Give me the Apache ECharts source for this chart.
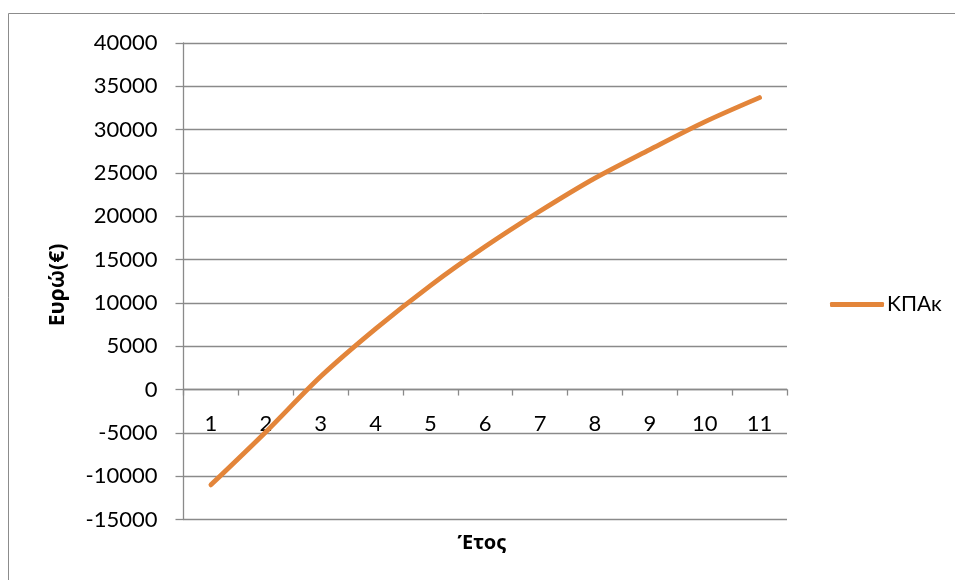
<!DOCTYPE html>
<html>
<head>
<meta charset="utf-8">
<script src="https://cdn.jsdelivr.net/npm/echarts@6/dist/echarts.min.js"></script>
<style>
  html, body { margin: 0; padding: 0; background: #fff; }
  #chart { width: 955px; height: 580px; }
</style>
</head>
<body>
<div id="chart"></div>
<script>
// Years of the investment horizon
const years = ['1', '2', '3', '4', '5', '6', '7', '8', '9', '10', '11'];
// Cumulative net present value (€) per year
const kpaValues = [-11000, -4900, 1500, 7000, 12000, 16500, 20600, 24400, 27700, 30900, 33700];
const yTicks = { min: -15000, max: 40000, step: 5000 };
const seriesName = 'ΚΠΑκ';
const yAxisTitle = 'Ευρώ(€)';
const xAxisTitle = 'Έτος';

const axisGray = '#8a8a8a';
const lineColor = '#E3853A';
const font = 'Lato, "Noto Sans", sans-serif';
const titleFont = '"Noto Sans", "Open Sans", sans-serif';

// plot box
const gridTop = 43, gridBottom = 60.5;
const plotHeight = 580 - gridTop - gridBottom;
// distance from the bottom of the plot up to the zero line
const zeroLift = plotHeight * (0 - yTicks.min) / (yTicks.max - yTicks.min);

const chart = echarts.init(document.getElementById('chart'));
chart.setOption({
  animation: false,
  backgroundColor: '#fff',
  graphic: [{
    type: 'rect',
    shape: { x: 8.5, y: 13.5, width: 960, height: 600 },
    style: { fill: 'none', stroke: '#8c8c8c', lineWidth: 1 },
    silent: true
  }, {
    // vertical axis title
    type: 'text',
    x: 58, y: 285,
    rotation: Math.PI / 2,
    style: {
      text: yAxisTitle,
      fontFamily: titleFont, fontSize: 21, fontWeight: 'bold', fill: '#000',
      align: 'center', verticalAlign: 'middle'
    }
  }, {
    // horizontal axis title
    type: 'text',
    x: 482, y: 543,
    style: {
      text: xAxisTitle,
      fontFamily: titleFont, fontSize: 20, fontWeight: 'bold', fill: '#000',
      align: 'center', verticalAlign: 'middle'
    }
  }],
  legend: {
    data: [seriesName],
    left: 825,
    top: 289,
    icon: 'roundRect',
    itemWidth: 54,
    itemHeight: 5,
    itemGap: 4,
    textStyle: { fontFamily: font, fontSize: 21, color: '#000', padding: [0, 0, 0, -2] }
  },
  grid: {
    left: 183.5, right: 168, top: gridTop, bottom: gridBottom,
    containLabel: false,
    outerBoundsMode: 'none'
  },
  xAxis: {
    type: 'category',
    data: years,
    boundaryGap: true,
    position: 'bottom',
    offset: -zeroLift,
    axisLine: { onZero: false, lineStyle: { color: axisGray, width: 1.3 } },
    axisTick: { show: true, inside: false, length: 6, lineStyle: { color: axisGray, width: 1.3 } },
    axisLabel: { fontFamily: font, fontSize: 22, color: '#000', margin: 23 },
    splitLine: { show: false }
  },
  yAxis: {
    type: 'value',
    min: yTicks.min,
    max: yTicks.max,
    interval: yTicks.step,
    axisLine: { show: true, lineStyle: { color: axisGray, width: 1.3 } },
    axisTick: { show: true, length: 8, lineStyle: { color: axisGray, width: 1.3 } },
    axisLabel: {
      fontFamily: font, fontSize: 22, color: '#000', margin: 26,
      formatter: (v) => String(v)
    },
    splitLine: { show: true, lineStyle: { color: axisGray, width: 1.3 } }
  },
  series: [{
    name: seriesName,
    type: 'line',
    data: kpaValues,
    smooth: 0.3,
    showSymbol: false,
    symbol: 'none',
    lineStyle: { color: lineColor, width: 4.8, cap: 'round', join: 'round' },
    itemStyle: { color: lineColor }
  }]
});
</script>
</body>
</html>
